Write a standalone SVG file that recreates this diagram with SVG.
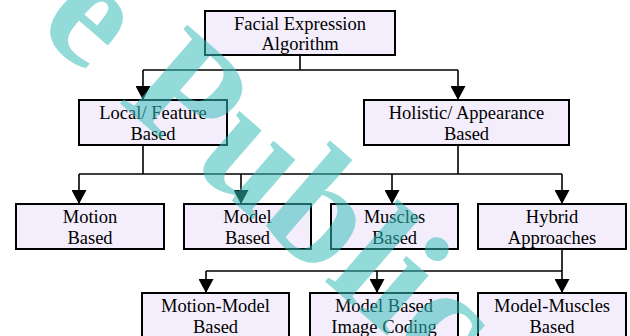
<svg xmlns="http://www.w3.org/2000/svg" width="630" height="336" viewBox="0 0 630 336">
<defs>
<style>
.box{fill:#F4EEFC;stroke:#000;stroke-width:2}
.lbl{font-size:18.5px;fill:#000;text-anchor:middle}
.con{fill:none;stroke:#000;stroke-width:1.6}
.wm{font-weight:bold;font-size:158px;fill:#38BDBA;opacity:0.54}
</style>
<marker id="ah" viewBox="0 0 14 15" markerWidth="14" markerHeight="15" refX="14" refY="7.5" orient="auto" markerUnits="userSpaceOnUse">
<path d="M0,0 L14,7.5 L0,15 z" fill="#000"/>
</marker>
</defs>
<rect width="630" height="336" fill="#fff"/>
<g id="connectors">
<path class="con" d="M300,55 V70 M143,70 H458"/>
<path class="con" d="M143,70 V100" marker-end="url(#ah)"/>
<path class="con" d="M458,70 V100" marker-end="url(#ah)"/>
<path class="con" d="M143,145 V174 M458,145 V174 M79,174 H562"/>
<path class="con" d="M79,174 V204" marker-end="url(#ah)"/>
<path class="con" d="M241,174 V204" marker-end="url(#ah)"/>
<path class="con" d="M392,174 V204" marker-end="url(#ah)"/>
<path class="con" d="M562,174 V204" marker-end="url(#ah)"/>
<path class="con" d="M562,249 V271 M206,271 H562"/>
<path class="con" d="M206,271 V293" marker-end="url(#ah)"/>
<path class="con" d="M377,271 V293" marker-end="url(#ah)"/>
<path class="con" d="M562,271 V293" marker-end="url(#ah)"/>
</g>
<g font-family="Liberation Serif, DejaVu Serif, Times New Roman, serif">
<g id="n-root"><rect class="box" x="205" y="11" width="190" height="44"/><text class="lbl" x="300" y="29.5">Facial Expression</text><text class="lbl" x="300" y="50">Algorithm</text></g>
<g id="n-local"><rect class="box" x="79" y="100" width="148" height="45"/><text class="lbl" x="153" y="118.5">Local/ Feature</text><text class="lbl" x="153" y="139.5">Based</text></g>
<g id="n-holistic"><rect class="box" x="364" y="100" width="205" height="45"/><text class="lbl" x="466.5" y="118.5">Holistic/ Appearance</text><text class="lbl" x="466.5" y="139.5">Based</text></g>
<g id="n-motion"><rect class="box" x="16" y="204" width="148" height="45"/><text class="lbl" x="90" y="223">Motion</text><text class="lbl" x="90" y="243.5">Based</text></g>
<g id="n-model"><rect class="box" x="184" y="204" width="127" height="45"/><text class="lbl" x="247.5" y="223">Model</text><text class="lbl" x="247.5" y="243.5">Based</text></g>
<g id="n-muscles"><rect class="box" x="331" y="204" width="127" height="45"/><text class="lbl" x="394.5" y="223">Muscles</text><text class="lbl" x="394.5" y="243.5">Based</text></g>
<g id="n-hybrid"><rect class="box" x="478" y="204" width="148" height="45"/><text class="lbl" x="552" y="223">Hybrid</text><text class="lbl" x="552" y="243.5">Approaches</text></g>
<g id="n-motionmodel"><rect class="box" x="142" y="293" width="147" height="50"/><text class="lbl" x="215.5" y="312">Motion-Model</text><text class="lbl" x="215.5" y="332.5">Based</text></g>
<g id="n-mbic"><rect class="box" x="310" y="293" width="148" height="50"/><text class="lbl" x="384" y="312">Model Based</text><text class="lbl" x="384" y="332.5">Image Coding</text></g>
<g id="n-modelmuscles"><rect class="box" x="478" y="293" width="148" height="50"/><text class="lbl" x="552" y="312">Model-Muscles</text><text class="lbl" x="552" y="332.5">Based</text></g>
<text class="wm" transform="translate(34.5,29) rotate(41)" x="0" y="0">e Public</text>
</g>
</svg>
